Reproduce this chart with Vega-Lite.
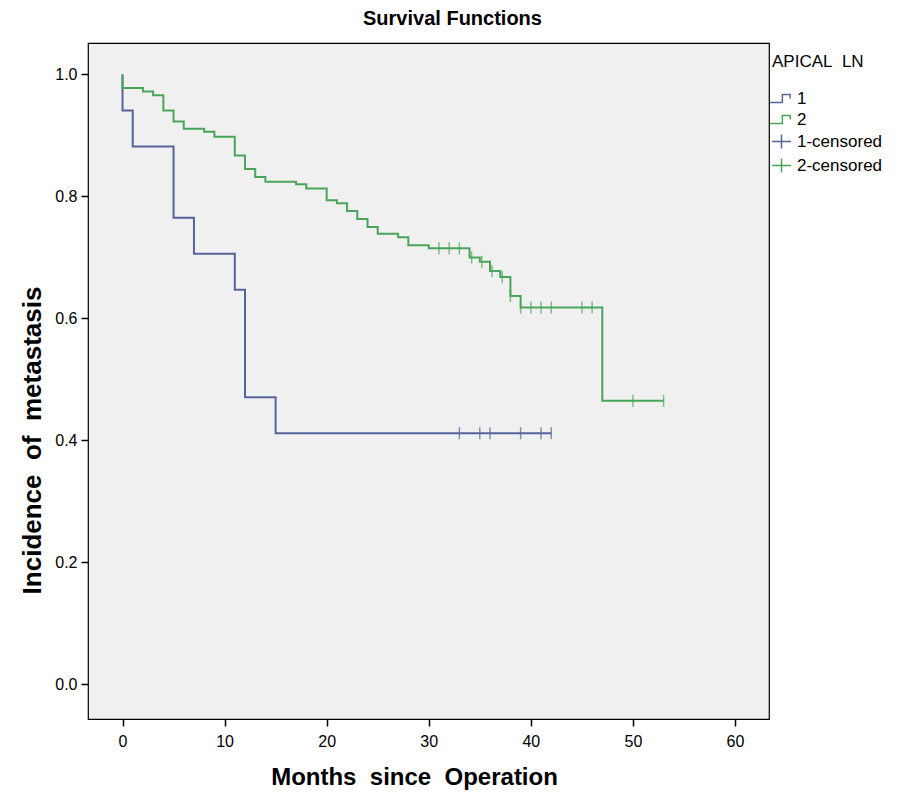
{
  "$schema": "https://vega.github.io/schema/vega-lite/v6.json",
  "autosize": {"type": "none"},
  "padding": {"left": 88, "top": 43, "right": 139, "bottom": 75},
  "width": 681,
  "height": 676,
  "background": "white",
  "config": {
    "view": {"fill": "#f0f0f0", "stroke": "black", "strokeWidth": 1.2}
  },
  "title": {
    "text": "Survival Functions",
    "anchor": "middle",
    "dx": 24,
    "offset": 14,
    "fontSize": 20,
    "font": "Liberation Sans",
    "fontWeight": "bold",
    "color": "black"
  },
  "datasets": {
    "curves": [
      {"g": "1", "i": 0, "t": 0, "s": 1.0},
      {"g": "1", "i": 1, "t": 0, "s": 0.941},
      {"g": "1", "i": 2, "t": 1, "s": 0.882},
      {"g": "1", "i": 3, "t": 5, "s": 0.765},
      {"g": "1", "i": 4, "t": 7, "s": 0.706},
      {"g": "1", "i": 5, "t": 11, "s": 0.647},
      {"g": "1", "i": 6, "t": 12, "s": 0.471},
      {"g": "1", "i": 7, "t": 15, "s": 0.412},
      {"g": "1", "i": 8, "t": 42, "s": 0.412},
      {"g": "2", "i": 0, "t": 0, "s": 1.0},
      {"g": "2", "i": 1, "t": 0, "s": 0.978},
      {"g": "2", "i": 2, "t": 2, "s": 0.972},
      {"g": "2", "i": 3, "t": 3, "s": 0.966},
      {"g": "2", "i": 4, "t": 4, "s": 0.941},
      {"g": "2", "i": 5, "t": 5, "s": 0.923},
      {"g": "2", "i": 6, "t": 6, "s": 0.911},
      {"g": "2", "i": 7, "t": 8, "s": 0.906},
      {"g": "2", "i": 8, "t": 9, "s": 0.898},
      {"g": "2", "i": 9, "t": 11, "s": 0.867},
      {"g": "2", "i": 10, "t": 12, "s": 0.845},
      {"g": "2", "i": 11, "t": 13, "s": 0.832},
      {"g": "2", "i": 12, "t": 14, "s": 0.824},
      {"g": "2", "i": 13, "t": 17, "s": 0.820},
      {"g": "2", "i": 14, "t": 18, "s": 0.813},
      {"g": "2", "i": 15, "t": 20, "s": 0.794},
      {"g": "2", "i": 16, "t": 21, "s": 0.789},
      {"g": "2", "i": 17, "t": 22, "s": 0.776},
      {"g": "2", "i": 18, "t": 23, "s": 0.763},
      {"g": "2", "i": 19, "t": 24, "s": 0.750},
      {"g": "2", "i": 20, "t": 25, "s": 0.739},
      {"g": "2", "i": 21, "t": 27, "s": 0.733},
      {"g": "2", "i": 22, "t": 28, "s": 0.720},
      {"g": "2", "i": 23, "t": 30, "s": 0.715},
      {"g": "2", "i": 24, "t": 34, "s": 0.700},
      {"g": "2", "i": 25, "t": 35, "s": 0.693},
      {"g": "2", "i": 26, "t": 36, "s": 0.678},
      {"g": "2", "i": 27, "t": 37, "s": 0.668},
      {"g": "2", "i": 28, "t": 38, "s": 0.637},
      {"g": "2", "i": 29, "t": 39, "s": 0.618},
      {"g": "2", "i": 30, "t": 47, "s": 0.465},
      {"g": "2", "i": 31, "t": 53, "s": 0.465}
    ],
    "censored": [
      {"g": "1-censored", "t": 33, "s": 0.412},
      {"g": "1-censored", "t": 35, "s": 0.412},
      {"g": "1-censored", "t": 36, "s": 0.412},
      {"g": "1-censored", "t": 39, "s": 0.412},
      {"g": "1-censored", "t": 41, "s": 0.412},
      {"g": "1-censored", "t": 42, "s": 0.412},
      {"g": "2-censored", "t": 31, "s": 0.715},
      {"g": "2-censored", "t": 32, "s": 0.715},
      {"g": "2-censored", "t": 33, "s": 0.715},
      {"g": "2-censored", "t": 34.2, "s": 0.700},
      {"g": "2-censored", "t": 35.2, "s": 0.693},
      {"g": "2-censored", "t": 36.2, "s": 0.678},
      {"g": "2-censored", "t": 37.2, "s": 0.668},
      {"g": "2-censored", "t": 38, "s": 0.637},
      {"g": "2-censored", "t": 39, "s": 0.618},
      {"g": "2-censored", "t": 40, "s": 0.618},
      {"g": "2-censored", "t": 41, "s": 0.618},
      {"g": "2-censored", "t": 42, "s": 0.618},
      {"g": "2-censored", "t": 45, "s": 0.618},
      {"g": "2-censored", "t": 46, "s": 0.618},
      {"g": "2-censored", "t": 50, "s": 0.465},
      {"g": "2-censored", "t": 53, "s": 0.465}
    ]
  },
  "layer": [
    {
      "data": {"name": "curves"},
      "mark": {"type": "line", "interpolate": "step-after", "strokeWidth": 2, "clip": true},
      "encoding": {
        "x": {
          "field": "t",
          "type": "quantitative",
          "scale": {"domain": [-3.38, 63.33], "nice": false, "zero": false},
          "axis": {
            "values": [0, 10, 20, 30, 40, 50, 60],
            "title": "Months\u00a0 since\u00a0 Operation",
            "titleX": 326,
            "domain": false,
            "grid": false,
            "tickColor": "black",
            "tickSize": 7,
            "tickWidth": 1.5,
            "labelFontSize": 16,
            "labelFont": "Liberation Sans",
            "labelColor": "black",
            "labelPadding": 7,
            "titleFontSize": 24,
            "titleFont": "Liberation Sans",
            "titleFontWeight": "bold",
            "titleColor": "black",
            "titlePadding": 16
          }
        },
        "y": {
          "field": "s",
          "type": "quantitative",
          "scale": {"domain": [-0.0566, 1.0516], "nice": false, "zero": false},
          "axis": {
            "values": [0, 0.2, 0.4, 0.6, 0.8, 1.0],
            "format": ".1f",
            "title": "Incidence\u00a0 of\u00a0 metastasis",
            "titleY": 397,
            "domain": false,
            "grid": false,
            "tickColor": "black",
            "tickSize": 7,
            "tickWidth": 1.5,
            "labelFontSize": 16,
            "labelFont": "Liberation Sans",
            "labelColor": "black",
            "labelPadding": 4,
            "titleFontSize": 26,
            "titleFont": "Liberation Sans",
            "titleFontWeight": "bold",
            "titleColor": "black",
            "titlePadding": 9
          }
        },
        "color": {
          "field": "g",
          "type": "nominal",
          "scale": {
            "domain": ["1", "2", "1-censored", "2-censored"],
            "range": ["#56649a", "#48a55a", "#56649a", "#48a55a"]
          },
          "legend": {
            "title": "APICAL\u00a0 LN",
            "orient": "none",
            "legendX": 684,
            "legendY": 11,
            "titleFont": "Liberation Sans",
            "titleFontSize": 17,
            "titleFontWeight": "normal",
            "titleColor": "black",
            "titlePadding": 18,
            "labelFont": "Liberation Sans",
            "labelFontSize": 17,
            "labelColor": "black",
            "labelOffset": 6,
            "rowPadding": 3,
            "symbolSize": 300,
            "symbolStrokeWidth": 1.5,
            "symbolFillColor": "transparent",
            "encode": {
              "symbols": {
                "update": {
                  "shape": {"signal": "datum.value == '1' || datum.value == '2' ? 'M-1.3,0.45H0.1V-0.45H1.0V0' : 'M-1.1,0H1.1M0,-0.8V0.8'"},
                  "fill": {"value": "transparent"},
                  "fillOpacity": {"value": 0},
                  "size": {"value": 300},
                  "stroke": {"scale": "color", "field": "value"},
                  "strokeWidth": {"value": 1.5}
                }
              }
            }
          }
        },
        "order": {"field": "i", "type": "quantitative"}
      }
    },
    {
      "data": {"name": "censored"},
      "mark": {"type": "tick", "orient": "vertical", "size": 12, "thickness": 1.5},
      "encoding": {
        "x": {"field": "t", "type": "quantitative"},
        "y": {"field": "s", "type": "quantitative"},
        "color": {"field": "g", "type": "nominal"}
      }
    }
  ]
}
